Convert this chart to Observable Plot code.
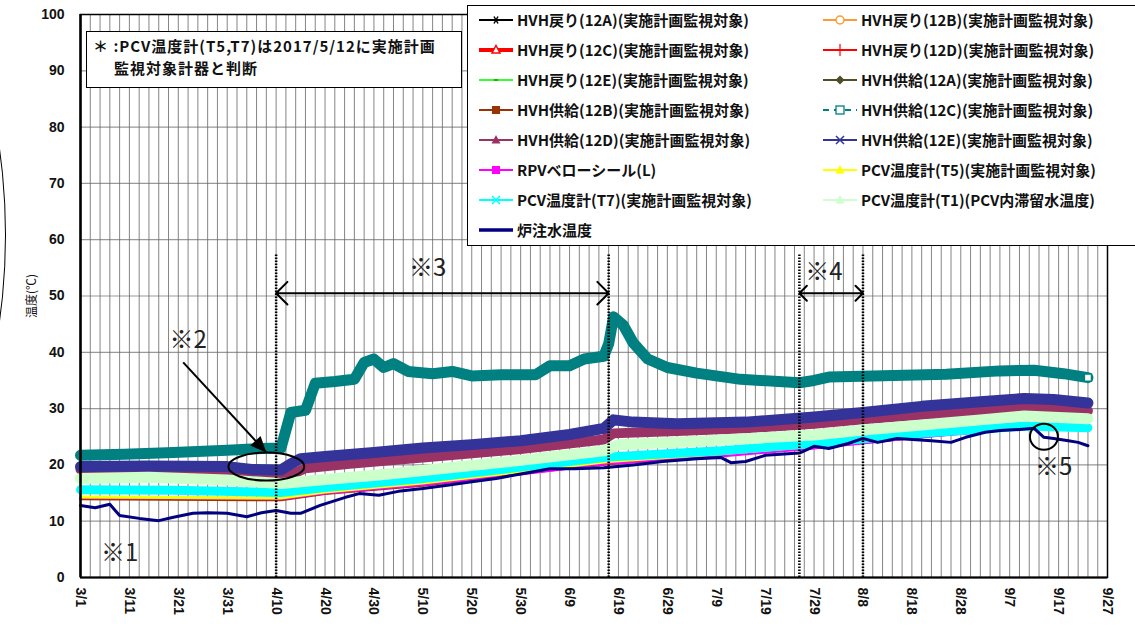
<!DOCTYPE html>
<html><head><meta charset="utf-8">
<script src="https://cdn.jsdelivr.net/npm/d3@7"></script>
<script src="https://cdn.jsdelivr.net/npm/@observablehq/plot@0.6"></script>
<style>
body{margin:0;background:#fff;}
#wrap{position:relative;width:1135px;height:633px;overflow:hidden;font-family:"Noto Sans CJK JP","Noto Sans",sans-serif;}
#wrap svg.plot{position:absolute;left:0;top:0;}
#note{position:absolute;left:86px;top:31px;width:376px;height:57px;border:1.5px solid #000;background:#fff;box-sizing:border-box;font-weight:bold;font-size:15px;letter-spacing:1px;line-height:22px;padding:3px 0 0 6px;color:#111;white-space:nowrap;}
#note .l2{padding-left:21px;}
#legend{position:absolute;left:467px;top:5px;width:700px;height:241px;border:1.5px solid #000;background:#fff;box-sizing:border-box;}
.item{position:absolute;height:20px;display:flex;align-items:center;font-size:15px;font-weight:bold;white-space:nowrap;color:#111;}
.item svg{margin-right:3px;}
#ylab{position:absolute;left:30px;top:296px;transform:translate(-50%,-50%) rotate(-90deg);font-size:12px;white-space:nowrap;color:#111;}
#arc{position:absolute;left:-1262px;top:-399px;width:1268px;height:1268px;border:1.5px solid #000;border-radius:50%;box-sizing:border-box;}
</style>
</head><body>
<div id="wrap"></div>
<script>
// ---------- data ----------
const year = 2017;
const xTickLabels = ["3/1","3/11","3/21","3/31","4/10","4/20","4/30","5/10","5/20","5/30","6/9","6/19","6/29","7/9","7/19","7/29","8/8","8/18","8/28","9/7","9/17","9/27"];
const yTickValues = [0,10,20,30,40,50,60,70,80,90,100];

const seriesNames = [
  "HVH戻り(12A)(実施計画監視対象)","HVH戻り(12B)(実施計画監視対象)","HVH戻り(12C)(実施計画監視対象)",
  "HVH戻り(12D)(実施計画監視対象)","HVH戻り(12E)(実施計画監視対象)","HVH供給(12A)(実施計画監視対象)",
  "HVH供給(12B)(実施計画監視対象)","HVH供給(12C)(実施計画監視対象)","HVH供給(12D)(実施計画監視対象)",
  "HVH供給(12E)(実施計画監視対象)","RPVベローシール(L)","PCV温度計(T5)(実施計画監視対象)",
  "PCV温度計(T7)(実施計画監視対象)","PCV温度計(T1)(PCV内滞留水温度)","炉注水温度"];
const seriesColors = ["#000000","#FF9933","#FF0000","#FF0000","#33FF33","#4D4D26","#993300","#008080","#993366","#333399","#FF00FF","#FFFF00","#00FFFF","#CCFFCC","#000080"];

const datesT1 = ["3/1","3/15","3/31","4/11","4/20","5/1","5/10","5/30","6/16","6/19","7/5","7/29","8/8","8/20","9/1","9/10","9/23"];
const valuesT1 =     [17.6,17.8,17.3,16.7,17.4,18.2,19.0,20.8,22.5,23.6,24.2,25.3,26.2,27.1,28.0,28.7,28.2];
const valuesRet12A = [17.4,17.6,17.1,16.6,17.2,18.0,18.8,20.6,22.3,23.4,24.0,25.1,26.0,26.9,27.8,28.5,28.0];
const valuesRet12B = [17.8,18.0,17.5,16.9,17.6,18.4,19.2,21.0,22.7,23.8,24.4,25.5,26.4,27.3,28.2,28.9,28.4];
const valuesRet12C = [17.5,17.7,17.2,16.7,17.3,18.1,18.9,20.7,22.4,23.5,24.1,25.2,26.1,27.0,27.9,28.6,28.1];
const valuesRet12D = [17.7,17.9,17.4,16.8,17.5,18.3,19.1,20.9,22.6,23.7,24.3,25.4,26.3,27.2,28.1,28.8,28.3];
const valuesRet12E = [17.6,17.8,17.3,16.6,17.4,18.2,19.0,20.8,22.5,23.6,24.2,25.3,26.2,27.1,28.0,28.7,28.2];
const valuesSup12A = [17.5,17.7,17.3,16.7,17.3,18.1,18.9,20.8,22.4,23.5,24.1,25.2,26.2,27.0,27.9,28.6,28.1];

const datesLow = ["3/1","4/11","4/20","5/10","5/30","6/17","7/10","7/29","8/20","9/10","9/23"];
const valuesSup12B = [14.0,13.8,14.9,16.4,18.5,20.2,21.8,23.1,25.0,26.8,26.8];
const valuesRPV    = [14.2,14.0,15.0,16.5,18.4,20.3,21.6,23.0,25.0,26.5,26.7];
const valuesT5     = [14.3,14.1,15.2,16.8,18.8,20.6,22.0,23.3,25.3,27.0,27.0];
const datesT7  = ["3/1","3/20","4/11","4/20","5/10","5/30","6/17","7/10","7/29","8/20","9/10","9/23"];
const valuesT7 = [15.6,15.5,15.1,16.0,17.6,19.6,21.4,22.5,23.8,25.6,26.9,26.6];

const datesSup12C = ["3/1","3/10","3/20","3/31","4/7","4/11","4/13","4/16","4/18","4/22","4/26","4/28","4/30","5/2","5/4","5/7","5/12","5/16","5/20","5/26","6/2","6/5","6/9","6/12","6/16","6/17","6/18","6/20","6/22","6/25","6/29","7/5","7/14","7/26","7/29","8/1","8/10","8/25","9/5","9/12","9/18","9/23"];
const valuesSup12C = [21.7,21.9,22.2,22.6,22.9,23.0,29.3,29.7,34.5,34.8,35.2,38.2,38.8,37.3,38.0,36.6,36.2,36.6,35.8,36.0,36.0,37.6,37.6,38.8,39.3,41.5,46.3,44.8,41.7,38.8,37.3,36.3,35.2,34.6,35.0,35.6,35.8,36.1,36.7,36.8,36.2,35.5];

const datesSup12E = ["3/1","3/15","3/31","4/5","4/11","4/13","4/15","4/20","4/30","5/10","5/20","5/30","6/9","6/16","6/18","6/22","7/1","7/15","7/29","8/8","8/20","9/1","9/10","9/16","9/23"];
const valuesSup12E = [19.7,19.8,19.7,19.2,19.1,20.2,21.1,21.5,22.2,23.0,23.6,24.3,25.4,26.5,28.0,27.6,27.3,27.6,28.5,29.3,30.4,31.2,31.8,31.6,31.0];

const datesSup12D = ["3/1","3/15","3/31","4/5","4/11","4/14","4/16","4/25","5/10","5/30","6/16","6/18","7/1","7/15","7/29","8/8","8/20","9/1","9/10","9/23"];
const valuesSup12D = [19.2,19.2,19.0,18.2,17.8,18.6,19.4,20.2,21.3,22.8,24.5,25.6,26.0,26.5,27.3,28.1,28.9,29.6,30.1,29.6];

const datesInj = ["3/1","3/4","3/7","3/9","3/13","3/17","3/20","3/24","3/27","3/31","4/4","4/7","4/10","4/13","4/15","4/19","4/24","4/27","5/1","5/5","5/10","5/15","5/20","5/25","5/30","6/5","6/10","6/16","6/22","6/28","7/5","7/10","7/12","7/15","7/19","7/26","7/29","8/1","8/5","8/8","8/11","8/15","8/22","8/26","8/29","9/2","9/5","9/9","9/12","9/14","9/16","9/19","9/21","9/23"];
const valuesInj = [12.8,12.4,13.0,11.0,10.5,10.1,10.7,11.4,11.5,11.4,10.8,11.5,11.9,11.4,11.4,12.8,14.2,14.9,14.6,15.3,15.8,16.4,17.0,17.6,18.4,19.3,19.3,19.5,20.0,20.6,21.1,21.3,20.4,20.6,21.7,22.1,23.3,22.9,23.8,24.7,24.0,24.7,24.3,24.0,24.9,25.8,26.1,26.3,26.5,24.9,24.7,24.3,24.0,23.4];

const seriesDates  = [datesT1,datesT1,datesT1,datesT1,datesT1,datesT1,datesLow,datesSup12C,datesSup12D,datesSup12E,datesLow,datesLow,datesT7,datesT1,datesInj];
const seriesValues = [valuesRet12A,valuesRet12B,valuesRet12C,valuesRet12D,valuesRet12E,valuesSup12A,valuesSup12B,valuesSup12C,valuesSup12D,valuesSup12E,valuesRPV,valuesT5,valuesT7,valuesT1,valuesInj];

// annotations
const periodDates = ["4/10","6/17","7/26","8/8"];
const noteTexts = ["※1","※2","※3","※4","※5"];
const noteDates = ["3/9","3/23","5/11","7/31","9/16"];
const noteTemps = [4.3,42.1,54.9,54.2,19.5];

// ---------- styles ----------
const seriesWidths = [2,2,2,2,2,2,3,11,10,11,3,3,9,11,3];
const legendMarkers = ["asterisk","circleOpen","triangleOpen","plus","dash","diamond","square","squareOpen","triangle","cross","square","triangle","cross","triangle","none"];

const dt = s => { const [m, d] = s.split("/").map(Number); return new Date(Date.UTC(year, m - 1, d)); };

const rows = seriesNames.flatMap((name, i) => seriesDates[i].map((d, j) => ({name, date: dt(d), value: seriesValues[i][j]})));
const lineMarks = seriesNames.map((name, i) => Plot.line(rows.filter(r => r.name === name), {
  x: "date", y: "value", stroke: seriesColors[i], strokeWidth: seriesWidths[i], strokeLinejoin: "round", strokeLinecap: "round"
}));
const lastTeal = rows.filter(r => r.name === seriesNames[7]).slice(-1);

const start = dt(xTickLabels[0]), end = dt(xTickLabels[xTickLabels.length - 1]);
const gridDays = d3.range(0, d3.utcDay.count(start, end) + 1, 2).map(k => d3.utcDay.offset(start, k));

const notes = noteTexts.map((t, i) => ({t, date: dt(noteDates[i]), v: noteTemps[i]}));

function ellipseSymbol(rx, ry) {
  return {draw(ctx) {
    const kx = rx * 0.5523, ky = ry * 0.5523;
    ctx.moveTo(rx, 0);
    ctx.bezierCurveTo(rx, ky, kx, ry, 0, ry);
    ctx.bezierCurveTo(-kx, ry, -rx, ky, -rx, 0);
    ctx.bezierCurveTo(-rx, -ky, -kx, -ry, 0, -ry);
    ctx.bezierCurveTo(kx, -ry, rx, -ky, rx, 0);
    ctx.closePath();
  }};
}
function headSymbol(angleDeg, len, half) {
  return {draw(ctx) {
    const a = angleDeg * Math.PI / 180, ux = Math.cos(a), uy = Math.sin(a);
    const bx = -len * ux, by = -len * uy;
    ctx.moveTo(0, 0);
    ctx.lineTo(bx - half * uy, by + half * ux);
    ctx.lineTo(bx + half * uy, by - half * ux);
    ctx.closePath();
  }};
}

const arrow2 = [{x1: dt("3/22"), y1: 38.2, x2: dt("4/8"), y2: 22.2}];
const midDate = (a, b) => new Date((dt(a).getTime() + dt(b).getTime()) / 2);
const dbl = [
  {xm: midDate("4/10","6/17"), x: dt("4/10"), y: 50.5},
  {xm: midDate("4/10","6/17"), x: dt("6/17"), y: 50.5},
  {xm: midDate("7/26","8/8"), x: dt("7/26"), y: 50.5},
  {xm: midDate("7/26","8/8"), x: dt("8/8"), y: 50.5}
];

const plot = Plot.plot({
  width: 1135, height: 633,
  marginLeft: 80, marginRight: 28, marginTop: 14, marginBottom: 56,
  style: {fontFamily: "'Liberation Sans', Arial, sans-serif", fontSize: "14px", fontWeight: "bold", background: "transparent", color: "#111"},
  x: {type: "utc", domain: [start, end], ticks: xTickLabels.map(dt), tickFormat: d => `${d.getUTCMonth() + 1}/${d.getUTCDate()}`, tickRotate: 90, tickSize: 0, tickPadding: 10, label: null},
  y: {domain: [0, 100], ticks: yTickValues, tickSize: 0, tickPadding: 16, label: null},
  marks: [
    Plot.ruleY(yTickValues, {stroke: "#999", strokeWidth: 1.2}),
    Plot.ruleX(gridDays, {stroke: "#666", strokeWidth: 0.8}),
    ...lineMarks,
    Plot.dot(lastTeal, {x: "date", y: "value", symbol: "square", r: 4, fill: "white", stroke: seriesColors[7], strokeWidth: 1.5}),
    Plot.ruleX(periodDates.map(dt), {y1: 0, y2: 57.5, stroke: "#000", strokeWidth: 2.5, strokeDasharray: "1.5,1.5"}),
    Plot.frame({stroke: "#000", strokeWidth: 1.5}),
    Plot.ruleX([start], {stroke: "#000", strokeWidth: 2.5}),
    Plot.ruleY([0], {stroke: "#000", strokeWidth: 2}),
    Plot.arrow(dbl, {x1: "xm", y1: "y", x2: "x", y2: "y", stroke: "#000", strokeWidth: 2, headLength: 12, headAngle: 90}),
    Plot.link(arrow2, {x1: "x1", y1: "y1", x2: "x2", y2: "y2", stroke: "#000", strokeWidth: 2}),
    Plot.dot(arrow2, {x: "x2", y: "y2", symbol: headSymbol(47, 16, 7), fill: "#000", stroke: "none"}),
    Plot.dot([{d: dt("4/8"), v: 19.7}], {x: "d", y: "v", symbol: ellipseSymbol(38, 14), fill: "none", stroke: "#000", strokeWidth: 2}),
    Plot.dot([{d: dt("9/14"), v: 25.0}], {x: "d", y: "v", symbol: ellipseSymbol(14, 13), fill: "none", stroke: "#000", strokeWidth: 2}),
    Plot.text(notes, {x: "date", y: "v", text: "t", fontSize: 24, fontWeight: "normal", fontFamily: "'Noto Sans CJK JP', sans-serif", fill: "#222"})
  ]
});
plot.classList.add("plot");
const wrap = document.getElementById("wrap");
wrap.appendChild(plot);

// overlays
const arc = document.createElement("div"); arc.id = "arc"; wrap.appendChild(arc);
const ylab = document.createElement("div"); ylab.id = "ylab"; ylab.textContent = "温度(℃)"; wrap.appendChild(ylab);
const note = document.createElement("div"); note.id = "note";
note.innerHTML = '<div>＊ :PCV温度計(T5,T7)は2017/5/12に実施計画</div><div class="l2">監視対象計器と判断</div>';
wrap.appendChild(note);

function markerSvg(type, color, i) {
  const dashed = type === "squareOpen" ? ' stroke-dasharray="6,5"' : "";
  const lw = i === 2 ? 4 : (i === 14 ? 3.5 : 2);
  let m = "";
  const c = color;
  switch (type) {
    case "asterisk": m = `<path d="M-4,0H4M-2,-3.5L2,3.5M-2,3.5L2,-3.5" stroke="${c}" stroke-width="1.5"/>`; break;
    case "circleOpen": m = `<circle r="4" fill="#fff" stroke="${c}" stroke-width="1.5"/>`; break;
    case "triangleOpen": m = `<path d="M0,-4.5L4,3L-4,3Z" fill="#fff" stroke="${c}" stroke-width="1.5"/>`; break;
    case "plus": m = `<path d="M0,-6V6" stroke="${c}" stroke-width="1.2"/>`; break;
    case "dash": m = `<path d="M-2,0H2" stroke="#22aa22" stroke-width="2"/>`; break;
    case "diamond": m = `<path d="M0,-4.5L4.5,0L0,4.5L-4.5,0Z" fill="${c}"/>`; break;
    case "square": m = `<rect x="-4" y="-4" width="8" height="8" fill="${c}"/>`; break;
    case "squareOpen": m = `<rect x="-4" y="-4" width="8" height="8" fill="#fff" stroke="${c}" stroke-width="1.3"/>`; break;
    case "triangle": m = `<path d="M0,-5L4.5,3.5L-4.5,3.5Z" fill="${c}"/>`; break;
    case "cross": m = `<path d="M-4,-4L4,4M-4,4L4,-4" stroke="${c}" stroke-width="1.5"/>`; break;
  }
  return `<svg width="36" height="16" viewBox="-18 -8 36 16"><path d="M-17,0H17" stroke="${c}" stroke-width="${lw}"${dashed}/>${m}</svg>`;
}
const legend = document.createElement("div"); legend.id = "legend";
seriesNames.forEach((name, i) => {
  const row = Math.floor(i / 2), col = i % 2;
  const it = document.createElement("div"); it.className = "item";
  it.style.left = (col ? 354 : 10) + "px";
  it.style.top = (3.5 + row * 30) + "px";
  it.innerHTML = markerSvg(legendMarkers[i], seriesColors[i], i) + `<span>${name}</span>`;
  legend.appendChild(it);
});
wrap.appendChild(legend);
</script>
</body></html>
